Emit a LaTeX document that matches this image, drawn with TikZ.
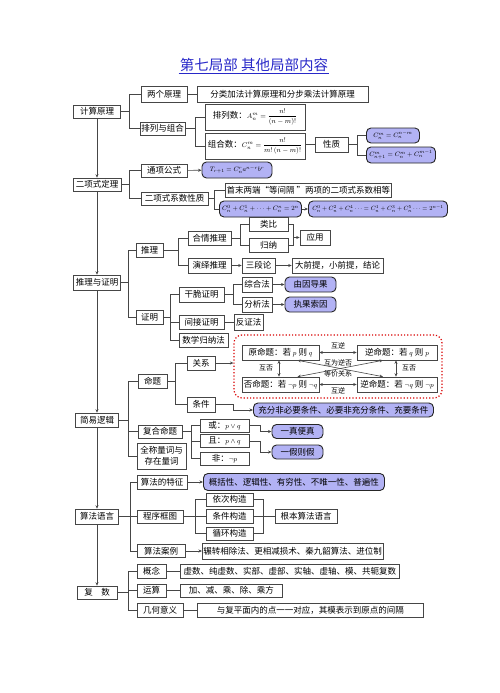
\documentclass[tikz,border=0pt]{standalone}
\usepackage{fontspec}
\usepackage{amsmath}
\newfontfamily\cjk{Noto Sans CJK SC}
\usetikzlibrary{arrows.meta}
\newcommand\fml[2][0.8]{\scalebox{#1}{$#2$}}
\definecolor{lavender}{RGB}{178,178,244}
\definecolor{titleblue}{RGB}{40,40,200}
\definecolor{linegray}{RGB}{70,70,70}
\tikzset{
  whitebox/.style={draw=linegray, line width=0.6pt, fill=white, inner sep=1pt,
    font=\cjk\fontsize{8.5}{10}\selectfont},
  bluebox/.style={whitebox, fill=lavender, draw=black!85, line width=0.9pt, rounded corners=4.5pt},
  redframe/.style={draw=red!85!black, dotted, line width=1.2pt, rounded corners=8pt},
  conn/.style={draw=linegray, line width=0.6pt},
  arr/.style={conn, -{Stealth[length=3.5pt,width=3pt]}},
  darr/.style={conn, {Stealth[length=3.5pt,width=3pt]}-{Stealth[length=3.5pt,width=3pt]}},
  tag/.style={font=\cjk\fontsize{7}{8}\selectfont, inner sep=0.5pt}
}
\begin{document}
\begin{tikzpicture}[x=1pt, y=-1pt]
\useasboundingbox (0,0) rectangle (500,693);

% title
\node[font=\cjk\fontsize{14.5}{16}\selectfont, text=titleblue, inner sep=1pt] (title) at (254,65) {第七局部\ 其他局部内容};
\draw[titleblue, line width=0.7pt] (title.south west) -- (title.south east);

% main column
\node[whitebox, minimum width=47pt, minimum height=13pt] (jsyl) at (97,111.5) {计算原理};
\node[whitebox, minimum width=48pt, minimum height=13pt] (ecs) at (97,184.5) {二项式定理};
\node[whitebox, minimum width=47pt, minimum height=15pt] (tlzm) at (97,282.5) {推理与证明};
\node[whitebox, minimum width=43pt, minimum height=14pt] (jylj) at (97,420) {简易逻辑};
\node[whitebox, minimum width=43pt, minimum height=15pt] (sfyy) at (97,516.5) {算法语言};
\node[whitebox, minimum width=40pt, minimum height=13pt] (fs) at (97,592.5) {复\quad 数};
\draw[arr] (jsyl) -- (ecs);
\draw[arr] (ecs) -- (tlzm);
\draw[arr] (tlzm) -- (jylj);
\draw[arr] (jylj) -- (sfyy);
\draw[arr] (sfyy) -- (fs);

% counting principles
\node[whitebox, minimum width=46pt, minimum height=16pt] (lgyl) at (164,94) {两个原理};
\node[whitebox, minimum width=45pt, minimum height=13pt] (plzh) at (162.5,128.5) {排列与组合};
\node[whitebox, minimum width=171pt, minimum height=16pt] (fjyl) at (282.5,94) {分类加法计算原理和分步乘法计算原理};
\node[whitebox, minimum width=100pt, minimum height=26pt] (pls) at (255,117) {排列数：\fml[0.85]{A_n^m=\dfrac{n!}{(n-m)!}}};
\node[whitebox, minimum width=100pt, minimum height=26pt] (zhs) at (255,146) {组合数：\fml[0.85]{C_n^m=\dfrac{n!}{m!\,(n-m)!}}};
\node[whitebox, minimum width=33pt, minimum height=15pt] (xz) at (331.5,144.5) {性质};
\node[bluebox, anchor=west, minimum width=53pt, minimum height=15pt] (xza) at (366,135.5) {\fml{C_n^m=C_n^{n-m}}};
\node[bluebox, anchor=west, minimum width=69pt, minimum height=16pt] (xzb) at (366,155) {\fml{C_{n+1}^m=C_n^m+C_n^{m-1}}};
\draw[conn] (jsyl.east) -- ++(8,0) coordinate (j1) |- (lgyl.west);
\draw[conn] (j1) |- (plzh.west);
\draw[conn] (lgyl) -- (fjyl);
\draw[conn] (plzh.east) -- ++(10,0) coordinate (j2) |- (pls.west);
\draw[conn] (j2) |- (zhs.west);
\draw[conn] (zhs.east |- xz) -- (xz.west);
\draw[conn] (xz.east) -- ++(9,0) coordinate (j3) |- (xza.west);
\draw[conn] (j3) |- (xzb.west);

% binomial theorem
\node[whitebox, minimum width=46pt, minimum height=13pt] (txgs) at (164,170.5) {通项公式};
\node[bluebox, minimum width=70pt, minimum height=16pt] (txb) at (237,170) {\fml{T_{r+1}=C_n^r a^{n-r}b^r}};
\node[whitebox, minimum width=67pt, minimum height=13pt] (xsxz) at (174.5,198.5) {二项式系数性质};
\node[whitebox, anchor=west, minimum width=166pt, minimum height=14pt] (smld) at (225,190) {首末两端“等间隔\ ”两项的二项式系数相等};
\node[bluebox, anchor=west, minimum width=82pt, minimum height=16pt] (hxa) at (219,209) {\fml{C_n^0+C_n^1+\cdots+C_n^n=2^n}};
\node[bluebox, anchor=west, minimum width=139pt, minimum height=16pt] (hxb) at (308,209) {\fml[0.76]{C_n^0+C_n^2+C_n^4\cdots=C_n^1+C_n^3+C_n^5\cdots=2^{n-1}}};
\draw[conn] (ecs.east) -- ++(8,0) coordinate (j4) |- (txgs.west);
\draw[conn] (j4) |- (xsxz.west);
\draw[arr] (txgs) -- (txb);
\draw[conn] (xsxz.east) -- ++(6,0) coordinate (j5) |- (smld.west);
\draw[conn] (j5) |- (hxa.west);
\draw[arr] (hxa) -- (hxb);

% reasoning and proof
\node[whitebox, minimum width=27pt, minimum height=14pt] (tl) at (149.5,250) {推理};
\node[whitebox, minimum width=27pt, minimum height=14pt] (zm) at (149.5,317) {证明};
\node[whitebox, minimum width=43pt, minimum height=14pt] (hqtl) at (209.5,238) {合情推理};
\node[whitebox, minimum width=43pt, minimum height=15pt] (yytl) at (209.5,265.5) {演绎推理};
\node[whitebox, minimum width=39pt, minimum height=14pt] (lb) at (268.5,224) {类比};
\node[whitebox, minimum width=39pt, minimum height=14pt] (gn) at (268.5,245) {归纳};
\node[whitebox, minimum width=30pt, minimum height=15pt] (yy) at (315,237.5) {应用};
\node[whitebox, minimum width=33pt, minimum height=15pt] (sdl) at (258.5,265.5) {三段论};
\node[whitebox, minimum width=91pt, minimum height=15pt] (dqt) at (337.5,265.5) {大前提，小前提，结论};
\node[whitebox, minimum width=45pt, minimum height=15pt] (gczm) at (201.5,294.5) {干脆证明};
\node[whitebox, minimum width=45pt, minimum height=14pt] (jjzm) at (201.5,322) {间接证明};
\node[whitebox, minimum width=49pt, minimum height=14pt] (sxgn) at (203.5,340) {数学归纳法};
\node[whitebox, minimum width=30pt, minimum height=15pt] (zhf) at (257,284.5) {综合法};
\node[whitebox, minimum width=30pt, minimum height=15pt] (fxf) at (257,304.5) {分析法};
\node[bluebox, minimum width=51pt, minimum height=15pt] (yydg) at (310.5,284.5) {由因导果};
\node[bluebox, minimum width=51pt, minimum height=15pt] (zgsy) at (310.5,304.5) {执果索因};
\node[whitebox, minimum width=29pt, minimum height=16pt] (fzf) at (248.5,322) {反证法};
\draw[conn] (tlzm.east) -- ++(7,0) coordinate (j6) |- (tl.west);
\draw[conn] (j6) |- (zm.west);
\draw[conn] (tl.east) -- ++(15,0) coordinate (j7) |- (hqtl.west);
\draw[conn] (j7) |- (yytl.west);
\draw[conn] (hqtl.east) -- ++(9,0) coordinate (j8) |- (lb.west);
\draw[conn] (j8) |- (gn.west);
\draw[conn] (lb.east) -- ++(5,0) coordinate (r1) |- (gn.east);
\draw[arr] (r1 |- yy.west) -- (yy.west);
\draw[arr] (yytl) -- (sdl);
\draw[arr] (sdl) -- (dqt);
\draw[conn] (zm.east) -- ++(7,0) coordinate (j9) |- (gczm.west);
\draw[conn] (j9) |- (jjzm.west);
\draw[conn] (j9) |- (sxgn.west);
\draw[conn] (gczm.east) -- ++(9,0) coordinate (j10) |- (zhf.west);
\draw[conn] (j10) |- (fxf.west);
\draw[arr] (zhf) -- (yydg);
\draw[arr] (fxf) -- (zgsy);
\draw[conn] (jjzm) -- (fzf);

% simple logic
\node[whitebox, minimum width=29pt, minimum height=14pt] (mt) at (152.5,381) {命题};
\node[whitebox, minimum width=44pt, minimum height=13pt] (fhmt) at (160,431.5) {复合命题};
\node[whitebox, minimum width=49pt, minimum height=26pt, align=center,
  font=\cjk\fontsize{8.5}{11}\selectfont] (qcl) at (161.5,456) {全称量词与\\存在量词};
\node[whitebox, minimum width=28pt, minimum height=14pt] (gx) at (201,363) {关系};
\node[whitebox, minimum width=28pt, minimum height=15pt] (tj) at (201,404.5) {条件};
\node[redframe, minimum width=208pt, minimum height=63pt] (frame) at (338,366.5) {};
\node[whitebox, minimum width=77pt, minimum height=15pt] (ymt) at (280.5,352.5) {原命题：若 \fml[0.85]{p} 则 \fml[0.85]{q}};
\node[whitebox, minimum width=80pt, minimum height=15pt] (nmt) at (397,352.5) {逆命题：若 \fml[0.85]{q} 则 \fml[0.85]{p}};
\node[whitebox, minimum width=77pt, minimum height=15pt] (fmt) at (280.5,384.5) {否命题：若 \fml[0.85]{\neg p} 则 \fml[0.85]{\neg q}};
\node[whitebox, minimum width=80pt, minimum height=15pt] (nfmt) at (397,384.5) {逆命题：若 \fml[0.85]{\neg q} 则 \fml[0.85]{\neg p}};
\node[tag] (hna) at (338,346) {互逆};
\node[tag] (hnb) at (338,391) {互逆};
\node[tag] (hfa) at (266,368) {互否};
\node[tag] (hfb) at (409,368) {互否};
\node[tag] (hwnf) at (338,363) {互为逆否};
\node[tag] (djgx) at (338,373.5) {等价关系};
\draw[darr] (ymt) -- (nmt);
\draw[darr] (fmt) -- (nfmt);
\draw[darr] ([xshift=-1.5pt]ymt.south) -- ([xshift=-1.5pt]fmt.north);
\draw[darr] ([xshift=-1pt]nmt.south) -- ([xshift=-1pt]nfmt.north);
\draw[darr] ([xshift=17pt]ymt.south) -- ([xshift=-14pt]nfmt.north);
\draw[darr] ([xshift=-14pt]nmt.south) -- ([xshift=17pt]fmt.north);
\node[bluebox, anchor=west, minimum width=180pt, minimum height=14pt] (cfby) at (253,410) {充分非必要条件、必要非充分条件、充要条件};
\node[whitebox, minimum width=49pt, minimum height=13pt] (huo) at (224.5,425.5) {或：\fml[0.85]{p\vee q}};
\node[whitebox, minimum width=49pt, minimum height=13pt] (qie) at (224.5,441) {且：\fml[0.85]{p\wedge q}};
\node[whitebox, minimum width=49pt, minimum height=13pt] (fei) at (224.5,458.5) {非：\fml[0.85]{\neg p}};
\node[bluebox, minimum width=51pt, minimum height=14pt] (yzbz) at (297.5,431.5) {一真便真};
\node[bluebox, minimum width=51pt, minimum height=14pt] (yjzj) at (297.5,452) {一假则假};
\draw[conn] (jylj.east) -- ++(9,0) coordinate (j11) |- (mt.west);
\draw[conn] (j11) |- (fhmt.west);
\draw[conn] (j11) |- (qcl.west);
\draw[conn] (mt.east) -- ++(8,0) coordinate (j12) |- (gx.west);
\draw[conn] (j12) |- (tj.west);
\draw[arr] (gx) -- (gx -| frame.west);
\draw[arr] (tj.east) -- ++(18,0) |- (cfby.west);
\draw[conn] (fhmt.east) -- ++(9,0) coordinate (j13) |- (huo.west);
\draw[conn] (j13) |- (qie.west);
\draw[conn] (j13) |- (fei.west);
\draw[arr] (huo.east) -- ++(11,0) |- (yzbz.west);
\draw[arr] (qie.east) -- ++(11,0) |- (yjzj.west);

% algorithms
\node[whitebox, minimum width=50pt, minimum height=14pt] (sftz) at (162,482) {算法的特征};
\node[bluebox, anchor=west, minimum width=181pt, minimum height=17pt] (tzb) at (203,482) {概括性、逻辑性、有穷性、不唯一性、普遍性};
\node[whitebox, minimum width=46pt, minimum height=13pt] (cxkt) at (160,516.5) {程序框图};
\node[whitebox, minimum width=47pt, minimum height=13pt] (yc) at (229.5,499.5) {依次构造};
\node[whitebox, minimum width=47pt, minimum height=14pt] (tjgz) at (229.5,516.5) {条件构造};
\node[whitebox, minimum width=47pt, minimum height=13pt] (xhgz) at (229.5,533.5) {循环构造};
\node[whitebox, minimum width=62pt, minimum height=14pt] (gbsf) at (306,516.5) {根本算法语言};
\node[whitebox, minimum width=48pt, minimum height=13pt] (sfal) at (161,551) {算法案例};
\node[whitebox, anchor=west, minimum width=176pt, minimum height=16pt] (alb) at (202,551) {辗转相除法、更相减损术、秦九韶算法、进位制};
\draw[conn] (sfyy.east) -- ++(11,0) coordinate (j14) |- (sftz.west);
\draw[conn] (j14) |- (cxkt.west);
\draw[conn] (j14) |- (sfal.west);
\draw[arr] (sftz) -- (tzb);
\draw[conn] (cxkt.east) -- ++(12,0) coordinate (j15) |- (yc.west);
\draw[conn] (j15) |- (tjgz.west);
\draw[conn] (j15) |- (xhgz.west);
\draw[conn] (yc.east) -- ++(10,0) coordinate (r2) |- (xhgz.east);
\draw[conn] (tjgz) -- (gbsf);
\draw[arr] (sfal) -- (alb);

% complex numbers
\node[whitebox, minimum width=29pt, minimum height=14pt] (gnn) at (151.5,571) {概念};
\node[whitebox, minimum width=29pt, minimum height=13pt] (ys) at (151.5,590.5) {运算};
\node[whitebox, minimum width=46pt, minimum height=14pt] (jhyy) at (160,610) {几何意义};
\node[whitebox, anchor=west, minimum width=219pt, minimum height=14pt] (xsb) at (180,571) {虚数、纯虚数、实部、虚部、实轴、虚轴、模、共轭复数};
\node[whitebox, anchor=west, minimum width=102pt, minimum height=13pt] (jjb) at (180,590.5) {加、减、乘、除、乘方};
\node[whitebox, anchor=west, minimum width=226pt, minimum height=14pt] (ypm) at (197,610) {与复平面内的点一一对应，其模表示到原点的间隔};
\draw[conn] (fs.east) -- ++(11,0) coordinate (j16) |- (gnn.west);
\draw[conn] (j16) |- (ys.west);
\draw[conn] (j16) |- (jhyy.west);
\draw[conn] (gnn) -- (xsb);
\draw[conn] (ys) -- (jjb);
\draw[conn] (jhyy) -- (ypm);
\end{tikzpicture}
\end{document}
